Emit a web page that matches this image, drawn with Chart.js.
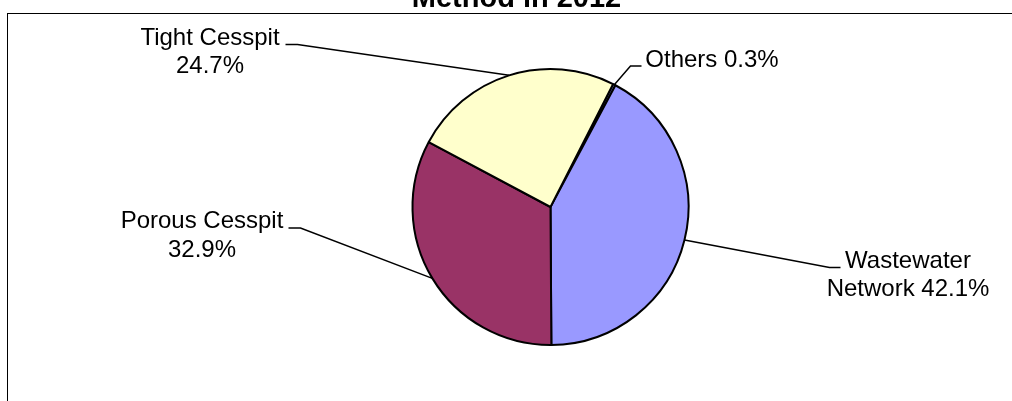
<!DOCTYPE html>
<html>
<head>
<meta charset="utf-8">
<title>Method in 2012</title>
<script src="https://cdn.jsdelivr.net/npm/chart.js@4/dist/chart.umd.min.js"></script>
<style>
    html, body { margin: 0; padding: 0; background: #FFFFFF; }
    #pieChart { display: block; }
</style>
</head>
<body>
<canvas id="pieChart" width="1012" height="401"></canvas>
<script>
// Chart data (clockwise order, as in the original sheet)
const categories = ['Others', 'Wastewater Network', 'Porous Cesspit', 'Tight Cesspit'];
const shares = [0.3, 42.1, 32.9, 24.7];

// Styling
const sliceColors = ['#9999FF', '#9999FF', '#993366', '#FFFFCC'];
const chartTitle = 'Method in 2012';
const FONT = '"Liberation Sans", Arial, sans-serif';

/**
 * Label placement, relative to the pie centre (pixels).
 * words = how many words go on the first line (0 = single line)
 */
const labelLayout = [
    { words: 0, textX: 161.5, baseline: -140, align: 'center', elbow: [80, -141], end: [91, -141] },
    { words: 1, textX: 357.5, baseline: 60.5, align: 'center', elbow: [279, 60.5], end: [290, 60.5] },
    { words: 2, textX: -348.5, baseline: 21, align: 'center', elbow: [-250, 21], end: [-262, 21] },
    { words: 2, textX: -340.5, baseline: -162.5, align: 'center', elbow: [-253, -162.5], end: [-265, -162.5] }
];

/**
 * Frame + title, drawn before the pie
 */
const framePlugin = {
    id: 'frame',
    beforeDraw(chart) {
        const ctx = chart.ctx;
        ctx.save();
        ctx.fillStyle = '#FFFFFF';
        ctx.fillRect(0, 0, chart.width, chart.height);

        ctx.strokeStyle = '#000000';
        ctx.lineWidth = 1;
        ctx.strokeRect(7.5, 13.5, chart.width + 20, chart.height + 20);

        // Title is partly cut off at the top of the picture
        ctx.fillStyle = '#000000';
        ctx.font = 'bold 29px ' + FONT;
        ctx.textAlign = 'center';
        ctx.textBaseline = 'alphabetic';
        ctx.fillText(chartTitle, 516.5, 7);
        ctx.restore();
    }
};

/**
 * Outside labels with leader lines
 */
const pieLabelsPlugin = {
    id: 'pieLabels',
    afterDatasetsDraw(chart) {
        const ctx = chart.ctx;
        const meta = chart.getDatasetMeta(0);

        ctx.save();
        ctx.strokeStyle = '#000000';
        ctx.fillStyle = '#000000';
        ctx.lineWidth = 1.5;
        ctx.font = '24px ' + FONT;
        ctx.textBaseline = 'alphabetic';

        meta.data.forEach((arc, i) => {
            const lay = labelLayout[i];
            const p = arc.getProps(['x', 'y', 'startAngle', 'endAngle', 'outerRadius'], true);
            const mid = (p.startAngle + p.endAngle) / 2;
            const ax = p.x + Math.cos(mid) * p.outerRadius;
            const ay = p.y + Math.sin(mid) * p.outerRadius;

            // leader line
            ctx.beginPath();
            ctx.moveTo(ax, ay);
            ctx.lineTo(p.x + lay.elbow[0], p.y + lay.elbow[1]);
            ctx.lineTo(p.x + lay.end[0], p.y + lay.end[1]);
            ctx.stroke();

            // text
            const words = categories[i].split(' ');
            const full = words.concat([shares[i].toFixed(1) + '%']);
            const lines = lay.words > 0
                ? [full.slice(0, lay.words).join(' '), full.slice(lay.words).join(' ')]
                : [full.join(' ')];

            ctx.textAlign = lay.align;
            lines.forEach((line, k) => {
                ctx.fillText(line, p.x + lay.textX, p.y + lay.baseline + k * 28.5);
            });
        });
        ctx.restore();
    }
};

const ctx = document.getElementById('pieChart').getContext('2d');

const pieChart = new Chart(ctx, {
    type: 'pie',
    data: {
        labels: categories,
        datasets: [{
            data: shares,
            backgroundColor: sliceColors,
            borderColor: '#000000',
            borderWidth: 2
        }]
    },
    options: {
        responsive: false,
        animation: false,
        rotation: 27,
        layout: {
            padding: { left: 411.5, right: 322.5, top: 68, bottom: 55 }
        },
        plugins: {
            legend: { display: false },
            tooltip: { enabled: false },
            title: { display: false }
        }
    },
    plugins: [framePlugin, pieLabelsPlugin]
});

console.log('[PieChart] Rendered');
</script>
</body>
</html>
